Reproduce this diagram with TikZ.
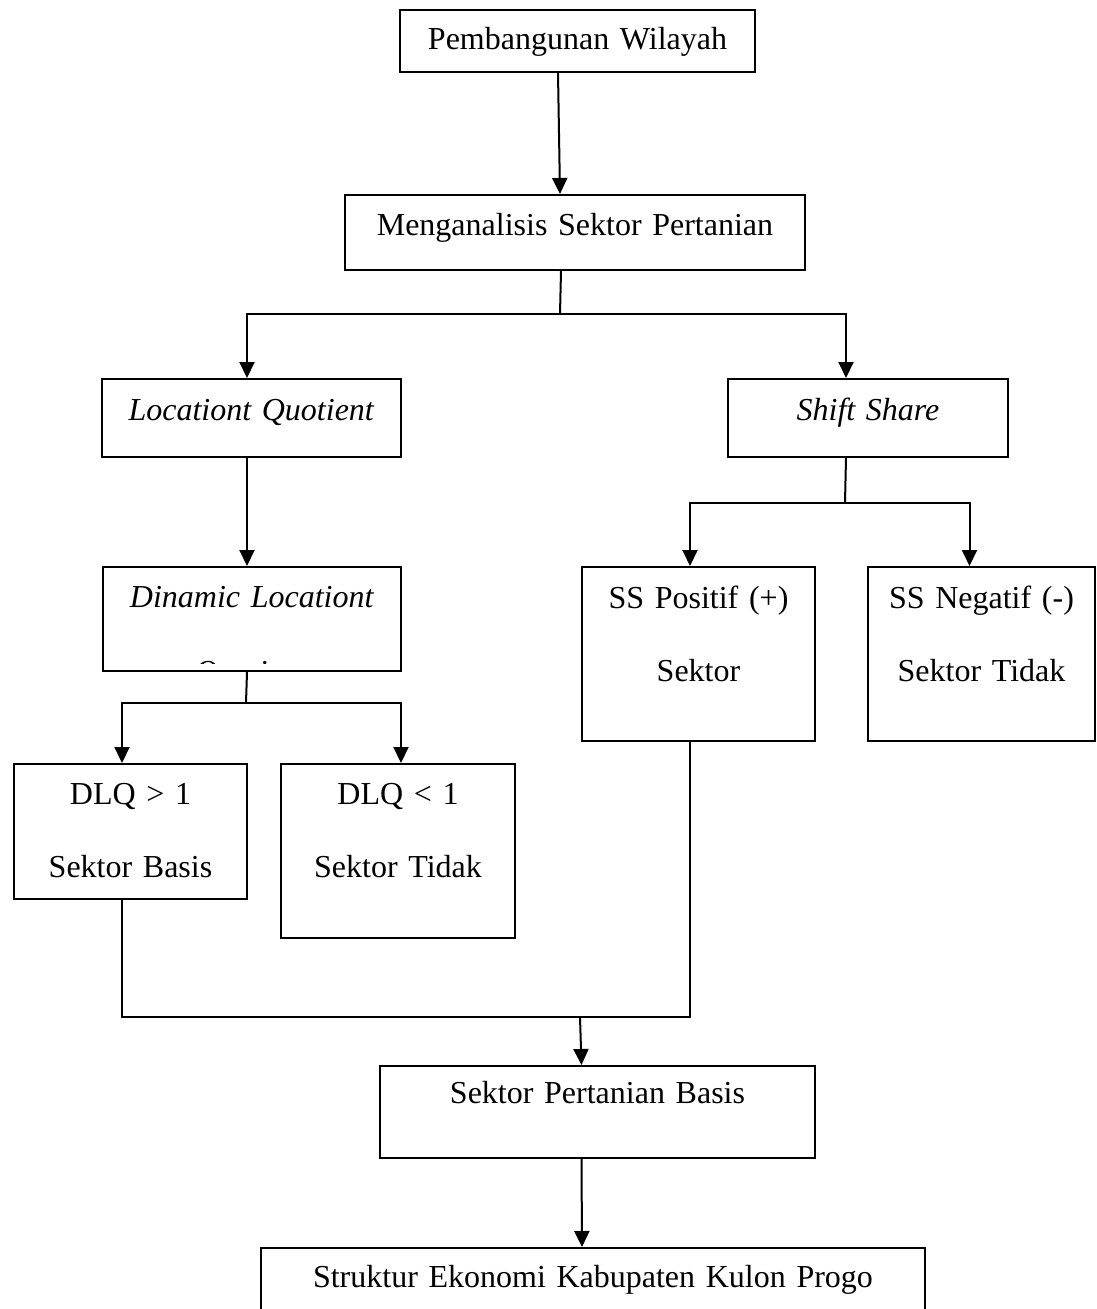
\documentclass[tikz,border=0pt]{standalone}
\usepackage{fontspec}
\setmainfont{Liberation Serif}
\usepackage{tikz}
\usetikzlibrary{arrows.meta}

\begin{document}
\begin{tikzpicture}[x=1pt,y=-1pt]
    \useasboundingbox (0,0) rectangle (1096,1309);
    \begin{scope}[every node/.style={draw,line width=2pt,inner sep=0pt,anchor=north west,align=center,font=\fontsize{32}{73}\selectfont}]
        \node[text width=355pt,text height=39pt,text depth=23pt](wil) at (399,9) {Pembangunan Wilayah};
        \node[text width=460pt,text height=40pt,text depth=35pt](ana) at (344,194) {Menganalisis Sektor Pertanian};
        \node[text width=299pt,text height=41pt,text depth=37pt](lq) at (101,378) {\textit{Locationt Quotient}};
        \node[text width=280pt,text height=41pt,text depth=37pt](ss) at (727,378) {\textit{Shift Share}};
        \node[text width=298pt,text height=40pt,text depth=64pt](dlq) at (102,566) {\textit{Dinamic Locationt}};
        \node[text width=233pt,text height=40pt,text depth=95pt](dlqa) at (13,763) {DLQ > 1\\Sektor Basis};
        \node[text width=234pt,text height=40pt,text depth=134pt](dlqb) at (280,763) {DLQ < 1\\Sektor Tidak};
        \node[text width=233pt,text height=41pt,text depth=133pt](ssp) at (581,566) {SS Positif (+)\\Sektor};
        \node[text width=227pt,text height=41pt,text depth=133pt](ssn) at (867,566) {SS Negatif (-)\\Sektor Tidak};
        \node[text width=435pt,text height=37pt,text depth=55pt](bas) at (379,1065) {Sektor Pertanian Basis};
        \node[text width=664pt,text height=39pt,text depth=70pt](str) at (260,1247) {Struktur Ekonomi Kabupaten Kulon Progo};
    \end{scope}
    %cut off second line
    \begin{scope}
        \clip (dlq.north west) rectangle ([yshift=9pt]dlq.south east);
        \node[anchor=base,inner sep=0pt,font=\fontsize{32}{73}\selectfont](dlqq) at (251,682) {\textit{Quotient}};
    \end{scope}
    %Lines
    \coordinate (f1) at (560,314);
    \coordinate (f2) at (246,703);
    \coordinate (f3) at (845,503);
    \coordinate (j1) at (580,1017);
    \begin{scope}[line width=2pt, >={Triangle[width=15pt,length=16pt]}]
        \draw[->] ([xshift=-19.5pt]wil.south) -- ([xshift=-15pt]ana.north);
        \draw ([xshift=-14pt]ana.south) -- (f1);
        \draw[->] (f1) -| ([xshift=-4.5pt]lq.north);
        \draw[->] (f1) -| ([xshift=-22pt]ss.north);
        \draw[->] ([xshift=-4.5pt]lq.south) -- ([xshift=-5pt]dlq.north);
        \draw ([xshift=-5pt]dlq.south) -- (f2);
        \draw[->] (f2) -| ([xshift=-8.5pt]dlqa.north);
        \draw[->] (f2) -| ([xshift=3pt]dlqb.north);
        \draw ([xshift=-22pt]ss.south) -- (f3);
        \draw[->] (f3) -| ([xshift=-8.5pt]ssp.north);
        \draw[->] (f3) -| ([xshift=-12pt]ssn.north);
        \draw ([xshift=-8.5pt]dlqa.south) |- (j1) -| ([xshift=-8.5pt]ssp.south);
        \draw[->] (j1) -- ([xshift=-16pt]bas.north);
        \draw[->] ([xshift=-16pt]bas.south) -- ([xshift=-11pt]str.north);
    \end{scope}
\end{tikzpicture}
\end{document}
